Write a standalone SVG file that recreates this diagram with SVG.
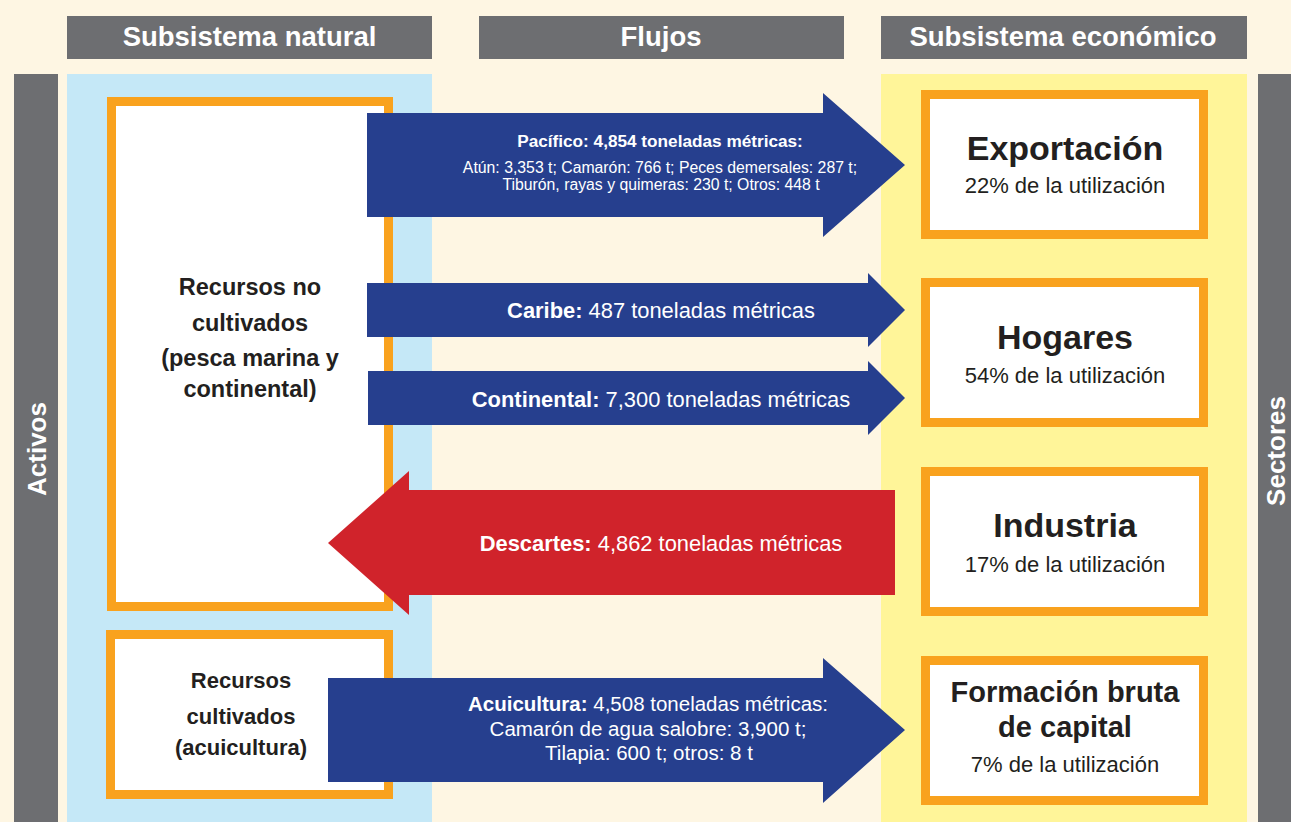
<svg xmlns="http://www.w3.org/2000/svg" width="1291" height="822" viewBox="0 0 1291 822">
<style>
text{font-family:"Liberation Sans",Arial,Helvetica,sans-serif}
.hdr{fill:#6D6E71}
.ht{fill:#fff;font-weight:bold;font-size:27.5px;text-anchor:middle}
.vt{fill:#fff;font-weight:bold;font-size:26px;text-anchor:middle}
.box{fill:#fff;stroke:#F9A21E;stroke-width:9}
.nt{fill:#231F20;font-weight:bold;text-anchor:middle}
.st{fill:#231F20;font-size:22px;text-anchor:middle}
.blue{fill:#263F8E}
.red{fill:#D0232B}
.at{fill:#fff;text-anchor:middle}
.b{font-weight:bold}
</style>
<rect width="1291" height="822" fill="#FEF6E3"/>
<!-- panels -->
<rect x="67" y="74" width="365" height="748" fill="#C5E8F7"/>
<rect x="881" y="74" width="366" height="748" fill="#FFF599"/>
<!-- headers -->
<g id="header-natural"><rect class="hdr" x="67" y="16" width="365" height="43"/><text class="ht" x="249.5" y="45.5">Subsistema natural</text></g>
<g id="header-flujos"><rect class="hdr" x="479" y="16" width="365" height="43"/><text class="ht" x="661" y="45.5">Flujos</text></g>
<g id="header-economico"><rect class="hdr" x="881" y="16" width="366" height="43"/><text class="ht" x="1063" y="45.5">Subsistema económico</text></g>
<g id="bar-activos"><rect class="hdr" x="14" y="74" width="44" height="748"/><text class="vt" transform="translate(46,449) rotate(-90)">Activos</text></g>
<g id="bar-sectores"><rect class="hdr" x="1258" y="74" width="33" height="748"/><text class="vt" font-size="25" transform="translate(1285,451) rotate(-90)">Sectores</text></g>
<!-- natural nodes -->
<g id="node-no-cultivados">
<rect class="box" x="111.5" y="101.5" width="277" height="505"/>
<text class="nt" font-size="23.5" x="250" y="295">Recursos no</text>
<text class="nt" font-size="23.5" x="250" y="331">cultivados</text>
<text class="nt" font-size="23.5" x="250" y="366">(pesca marina y</text>
<text class="nt" font-size="23.5" x="250" y="397">continental)</text>
</g>
<g id="node-cultivados">
<rect class="box" x="110.5" y="634.5" width="278" height="160"/>
<text class="nt" font-size="22" x="241" y="688">Recursos</text>
<text class="nt" font-size="22" x="241" y="724">cultivados</text>
<text class="nt" font-size="22" x="241" y="755">(acuicultura)</text>
</g>
<!-- economic nodes -->
<g id="node-exportacion">
<rect class="box" x="925.5" y="94.5" width="278" height="140"/>
<text class="nt" font-size="34" x="1065" y="160">Exportación</text>
<text class="st" x="1065" y="193">22% de la utilización</text>
</g>
<g id="node-hogares">
<rect class="box" x="925.5" y="282.5" width="278" height="140"/>
<text class="nt" font-size="34" x="1065" y="349">Hogares</text>
<text class="st" x="1065" y="383">54% de la utilización</text>
</g>
<g id="node-industria">
<rect class="box" x="925.5" y="471.5" width="278" height="140"/>
<text class="nt" font-size="34" x="1065" y="537">Industria</text>
<text class="st" x="1065" y="572">17% de la utilización</text>
</g>
<g id="node-formacion">
<rect class="box" x="925.5" y="660.5" width="278" height="140"/>
<text class="nt" font-size="29" x="1065" y="702">Formación bruta</text>
<text class="nt" font-size="29" x="1065" y="737">de capital</text>
<text class="st" x="1065" y="772">7% de la utilización</text>
</g>
<!-- connectors -->
<g id="connectors">
<g id="flow-pacifico">
<polygon class="blue" points="367,113 823,113 823,93 905,165 823,237 823,217 367,217"/>
<text class="at b" font-size="17.2" x="660" y="147">Pacífico: 4,854 toneladas métricas:</text>
<text class="at" font-size="15.8" x="660" y="173">Atún: 3,353 t; Camarón: 766 t; Peces demersales: 287 t;</text>
<text class="at" font-size="15.8" x="661" y="190">Tiburón, rayas y quimeras: 230 t; Otros: 448 t</text>
</g>
<g id="flow-caribe">
<polygon class="blue" points="367,283 868,283 868,273 905,310 868,347 868,337 367,337"/>
<text class="at" font-size="21.9" x="661" y="318"><tspan class="b">Caribe:</tspan> 487 toneladas métricas</text>
</g>
<g id="flow-continental">
<polygon class="blue" points="368,371 868,371 868,361 905,398 868,435 868,425 368,425"/>
<text class="at" font-size="21.9" x="661" y="407"><tspan class="b">Continental:</tspan> 7,300 toneladas métricas</text>
</g>
<g id="flow-descartes">
<polygon class="red" points="895,490 409,490 409,471 328,543 409,615 409,595 895,595"/>
<text class="at" font-size="21.9" x="661" y="551"><tspan class="b">Descartes:</tspan> 4,862 toneladas métricas</text>
</g>
<g id="flow-acuicultura">
<polygon class="blue" points="328,678 823,678 823,658 905,730 823,803 823,782 328,782"/>
<text class="at" font-size="20.5" x="648" y="711"><tspan class="b">Acuicultura:</tspan> 4,508 toneladas métricas:</text>
<text class="at" font-size="20.5" x="648" y="736">Camarón de agua salobre: 3,900 t;</text>
<text class="at" font-size="20.5" x="649" y="760">Tilapia: 600 t; otros: 8 t</text>
</g>
</g>
</svg>
